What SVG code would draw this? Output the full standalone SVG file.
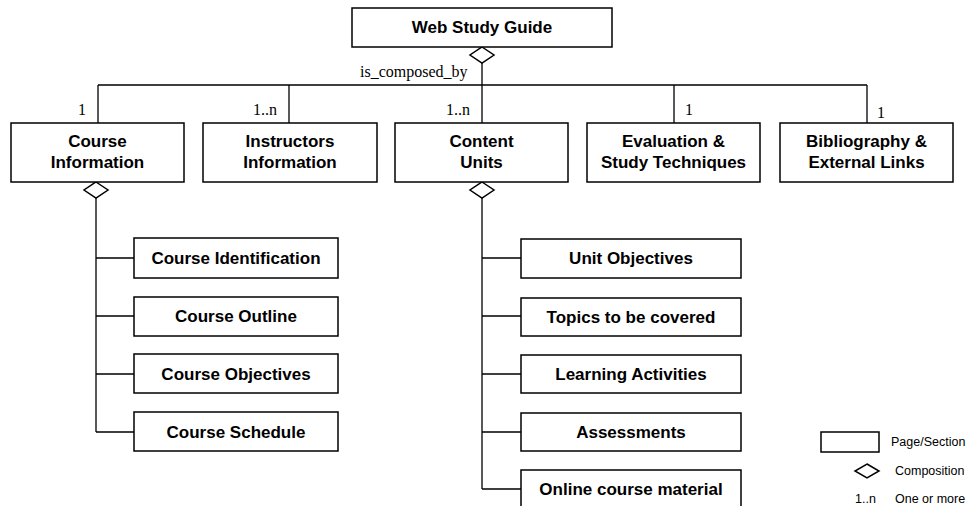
<svg xmlns="http://www.w3.org/2000/svg" width="968" height="506" viewBox="0 0 968 506">
<style>
.box{fill:#fff;stroke:#000;stroke-width:1.5}
.lbl{font-family:"Liberation Sans",Arial,sans-serif;font-weight:bold;font-size:17px;text-anchor:middle;fill:#000}
.mul{font-family:"Liberation Serif","Times New Roman",serif;font-size:16px;fill:#000}
.leg{font-family:"Liberation Sans",Arial,sans-serif;font-size:12.5px;fill:#000}
.ln{fill:none;stroke:#000;stroke-width:1.3}
.dia{fill:#fff;stroke:#000;stroke-width:1.5}
</style>
<rect width="968" height="506" fill="#fff"/>
<g id="connectors">
<path class="ln" d="M482 63V123M98 85H867M98 85V123M289 85V123M674 85V123M867 85V123"/>
<path class="ln" d="M96 198V432M96 258H134M96 316H134M96 374H134M96 432H134"/>
<path class="ln" d="M482 198V489M482 258H521M482 316H521M482 374H521M482 432H521M482 489H521"/>
<polygon class="dia" points="482,47 494,55 482,63 470,55"/>
<polygon class="dia" points="96,182 108,190 96,198 84,190"/>
<polygon class="dia" points="482,182 494,190 482,198 470,190"/>
<text class="mul" x="360" y="77">is_composed_by</text>
<text class="mul" x="78" y="115">1</text>
<text class="mul" x="253" y="115">1..n</text>
<text class="mul" x="446" y="115">1..n</text>
<text class="mul" x="685" y="115">1</text>
<text class="mul" x="877" y="118">1</text>
</g>
<g id="web-study-guide"><rect class="box" x="352" y="8" width="260" height="39"/><text class="lbl" x="482" y="33">Web Study Guide</text></g>
<g id="course-information"><rect class="box" x="11" y="123" width="173" height="59"/><text class="lbl" x="97.5" y="147">Course</text><text class="lbl" x="97.5" y="168">Information</text></g>
<g id="instructors-information"><rect class="box" x="203" y="123" width="174" height="59"/><text class="lbl" x="290" y="147">Instructors</text><text class="lbl" x="290" y="168">Information</text></g>
<g id="content-units"><rect class="box" x="395" y="123" width="173" height="59"/><text class="lbl" x="481.5" y="147">Content</text><text class="lbl" x="481.5" y="168">Units</text></g>
<g id="evaluation"><rect class="box" x="587" y="123" width="173" height="59"/><text class="lbl" x="673.5" y="147">Evaluation &amp;</text><text class="lbl" x="673.5" y="168">Study Techniques</text></g>
<g id="bibliography"><rect class="box" x="780" y="123" width="173" height="59"/><text class="lbl" x="866.5" y="147">Bibliography &amp;</text><text class="lbl" x="866.5" y="168">External Links</text></g>
<g id="course-identification"><rect class="box" x="134" y="238" width="204" height="40"/><text class="lbl" x="236" y="264">Course Identification</text></g>
<g id="course-outline"><rect class="box" x="134" y="297" width="204" height="39"/><text class="lbl" x="236" y="322">Course Outline</text></g>
<g id="course-objectives"><rect class="box" x="134" y="354" width="204" height="39"/><text class="lbl" x="236" y="380">Course Objectives</text></g>
<g id="course-schedule"><rect class="box" x="134" y="412" width="204" height="39"/><text class="lbl" x="236" y="438">Course Schedule</text></g>
<g id="unit-objectives"><rect class="box" x="521" y="239" width="220" height="39"/><text class="lbl" x="631" y="264">Unit Objectives</text></g>
<g id="topics"><rect class="box" x="521" y="298" width="220" height="38"/><text class="lbl" x="631" y="323">Topics to be covered</text></g>
<g id="learning-activities"><rect class="box" x="521" y="355" width="220" height="38"/><text class="lbl" x="631" y="380">Learning Activities</text></g>
<g id="assessments"><rect class="box" x="521" y="413" width="220" height="38"/><text class="lbl" x="631" y="438">Assessments</text></g>
<g id="online-material"><rect class="box" x="521" y="470" width="220" height="40"/><text class="lbl" x="631" y="495">Online course material</text></g>
<g id="legend">
<rect class="box" x="821" y="432" width="58" height="20" stroke-width="1"/>
<text class="leg" x="891" y="446">Page/Section</text>
<polygon class="dia" points="867,464 879,471 867,478 855,471" stroke-width="1.2"/>
<text class="leg" x="895" y="475">Composition</text>
<text class="leg" x="855" y="503">1..n</text>
<text class="leg" x="895" y="503">One or more</text>
</g>
</svg>
